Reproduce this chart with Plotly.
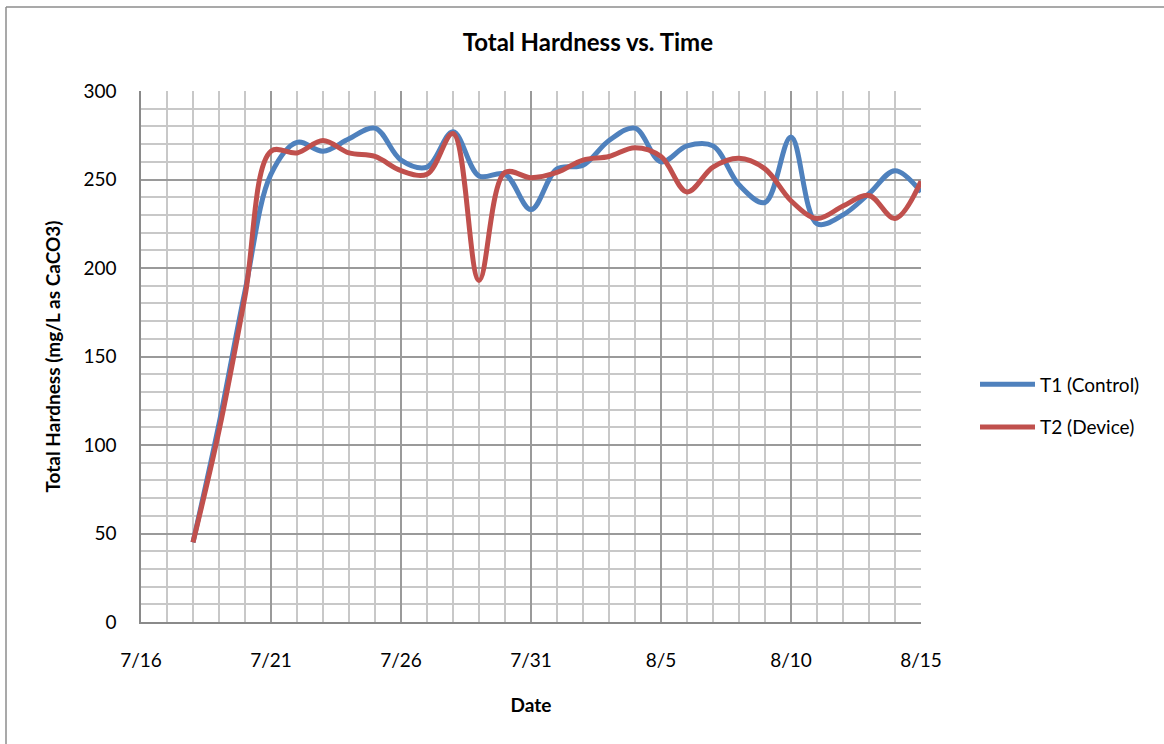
import plotly.graph_objects as go
import pandas as pd

dates = pd.date_range("2013-07-18", "2013-08-15", freq="D")
t1_control = [45, 112, 187, 253, 271, 266, 273, 279, 261, 257, 277, 252, 253, 233,
              256, 258, 272, 279, 260, 269, 269, 247, 237, 274, 225, 230, 242, 255, 243]
t2_device = [45, 108, 184, 266, 265, 272, 265, 263, 255, 253, 276, 193, 254, 251,
             254, 261, 263, 268, 263, 243, 257, 262, 256, 238, 228, 235, 241, 228, 249]

FONT = "Lato"
W, H = 1164, 744
L, R, T, B = 141, 921, 91, 622

fig = go.Figure()
fig.add_trace(go.Scatter(x=dates, y=t1_control, name="T1 (Control)", mode="lines",
                         line=dict(color="#4F81BD", width=5, shape="spline", smoothing=1.0),
                         legendgroup="a"))
fig.add_trace(go.Scatter(x=dates, y=t2_device, name="T2 (Device)", mode="lines",
                         line=dict(color="#C0504D", width=5, shape="spline", smoothing=1.0),
                         legendgroup="b"))

def px2paper_x(p):
    return (p - L) / (R - L)

def px2paper_y(p):
    return (B - p) / (B - T)

fig.update_layout(
    width=W, height=H,
    margin=dict(l=L, r=W - R, t=T, b=H - B),
    paper_bgcolor="white", plot_bgcolor="white",
    font=dict(family=FONT, size=19, color="#000000"),
    title=dict(text="<b>Total Hardness vs. Time</b>", x=0.505, xref="container",
               xanchor="center", y=1 - 43 / H, yanchor="middle",
               font=dict(family=FONT, size=24, color="#000000")),
    showlegend=True,
    legend=dict(x=px2paper_x(975), xanchor="left", y=px2paper_y(406), yanchor="middle",
                font=dict(family=FONT, size=19, color="#000000"),
                traceorder="grouped", tracegroupgap=15, itemwidth=55,
                bgcolor="rgba(0,0,0,0)"),
    xaxis=dict(
        type="date",
        range=["2013-07-16", "2013-08-15"],
        tick0="2013-07-16", dtick=5 * 86400000, tickformat="%-m/%-d",
        showgrid=True, gridcolor="#9a9a9a", gridwidth=1.5,
        minor=dict(dtick=86400000, tick0="2013-07-16", showgrid=True,
                   gridcolor="#c8c8c8", gridwidth=1.5),
        showline=True, linecolor="#8a8a8a", linewidth=1.5,
        ticks="", ticklabelstandoff=20,
        tickfont=dict(family=FONT, size=19),
        title=dict(text="<b>Date</b>", font=dict(family=FONT, size=19), standoff=29),
        zeroline=False, fixedrange=True,
    ),
    yaxis=dict(
        range=[0, 300], dtick=50, tick0=0,
        showgrid=True, gridcolor="#9a9a9a", gridwidth=1.5,
        minor=dict(dtick=10, showgrid=True, gridcolor="#c8c8c8", gridwidth=1.5),
        showline=True, linecolor="#8a8a8a", linewidth=1.5,
        ticks="", ticklabelstandoff=19,
        tickfont=dict(family=FONT, size=19),
        title=dict(text="<b>Total Hardness (mg/L as CaCO3)</b>",
                   font=dict(family=FONT, size=19), standoff=18),
        zeroline=False, fixedrange=True,
    ),
)

# outer chart border (left and top edges visible in the frame)
fig.add_shape(type="line", xref="paper", yref="paper",
              x0=px2paper_x(6), x1=px2paper_x(6), y0=px2paper_y(760), y1=px2paper_y(7),
              line=dict(color="#8c8c8c", width=1.5))
fig.add_shape(type="line", xref="paper", yref="paper",
              x0=px2paper_x(6), x1=px2paper_x(1180), y0=px2paper_y(7), y1=px2paper_y(7),
              line=dict(color="#8c8c8c", width=1.5))

fig.write_html("out.html", config={"displayModeBar": False},
               post_script="document.body.style.margin='0';document.body.style.overflow='hidden';")
